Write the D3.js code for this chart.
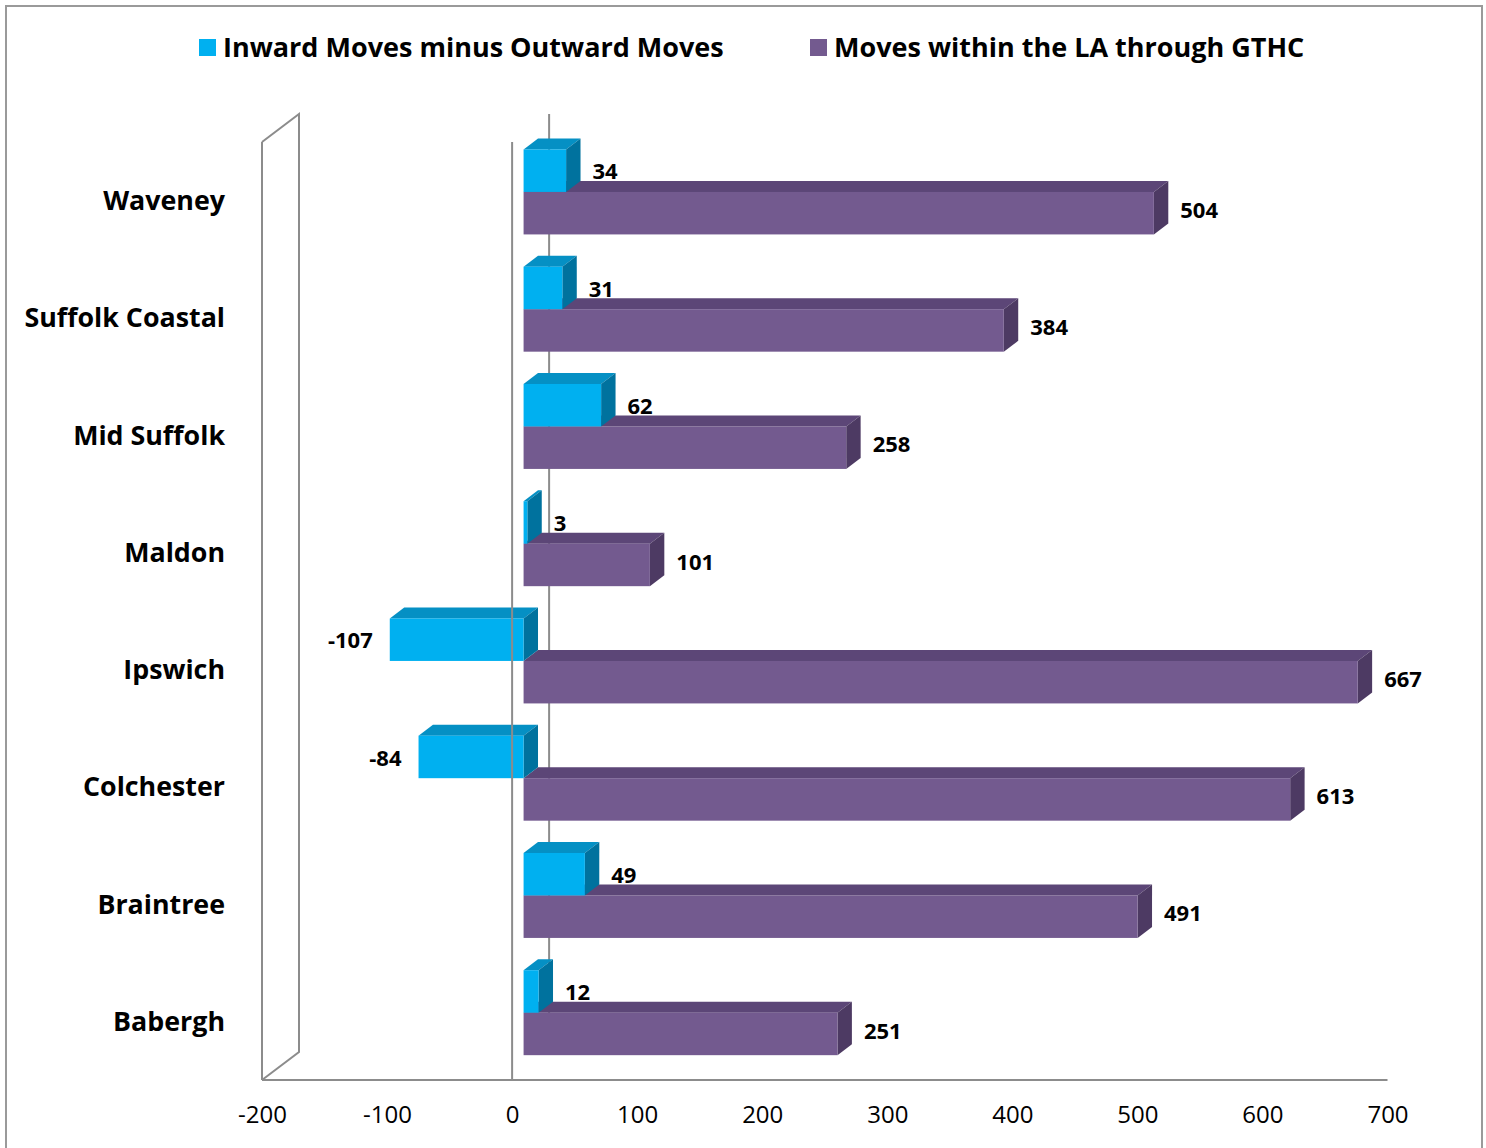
<!DOCTYPE html>
<html><head><meta charset="utf-8">
<script src="https://cdn.jsdelivr.net/npm/d3@7"></script>
<style>
html,body{margin:0;padding:0;background:#fff;}
svg{display:block;font-family:"Open Sans","DejaVu Sans",sans-serif;}
</style></head>
<body>
<svg id="chart" width="1486" height="1148"></svg>
<script>
const categories = ["Waveney","Suffolk Coastal","Mid Suffolk","Maldon","Ipswich","Colchester","Braintree","Babergh"];
const seriesNames = ["Inward Moves minus Outward Moves","Moves within the LA through GTHC"];
const netMoves = [34,31,62,3,-107,-84,49,12];
const withinMoves = [504,384,258,101,667,613,491,251];
const tickValues = [-200,-100,0,100,200,300,400,500,600,700];

const colors = [
  {front:"#00B0F0", top:"#0590C4", side:"#00729E"},
  {front:"#735A8F", top:"#5C4677", side:"#4D3A63"}
];

const svg = d3.select("#chart");

// outer border
svg.append("rect").attr("x",6).attr("y",6).attr("width",1476).attr("height",1160)
  .attr("fill","none").attr("stroke","#9a9a9a").attr("stroke-width",2);

// scales
const x = d3.scaleLinear().domain([-200,700]).range([262,1387.5]);
const y = d3.scaleBand().domain(categories).range([142,1080]);
const sub = d3.scaleBand().domain([0,1]).range([0,y.bandwidth()]).paddingInner(0).paddingOuter(0.38);

// 3D depth vector
const DX = 37, DY = -28;
const fa = 0.31, fb = 0.70;
const fx = fa*DX, fy = fa*DY, bx = fb*DX, by = fb*DY;

const grey = "#8c8c8c";

// left wall
const wallX = x(-200);
svg.append("path")
  .attr("d", `M${wallX},${y.range()[0]} L${wallX+DX},${y.range()[0]+DY} L${wallX+DX},${y.range()[1]+DY} L${wallX},${y.range()[1]}`)
  .attr("fill","none").attr("stroke",grey).attr("stroke-width",2);
svg.append("line").attr("x1",wallX).attr("x2",wallX).attr("y1",y.range()[0]).attr("y2",y.range()[1])
  .attr("stroke",grey).attr("stroke-width",2);

// back zero line
svg.append("line").attr("x1",x(0)+DX).attr("x2",x(0)+DX).attr("y1",y.range()[0]+DY).attr("y2",y.range()[1]+DY)
  .attr("stroke",grey).attr("stroke-width",2);

// bars
const data = [];
categories.forEach((c,i)=>{
  data.push({cat:c, s:1, v:withinMoves[i]});
  data.push({cat:c, s:0, v:netMoves[i]});
});

const g = svg.append("g");
data.forEach(d=>{
  const x1 = x(Math.min(0,d.v)), x2 = x(Math.max(0,d.v));
  const y1 = y(d.cat) + sub(d.s), h = sub.bandwidth();
  const col = colors[d.s];
  const bg = g.append("g");
  bg.append("path").attr("d",`M${x1+fx},${y1+fy} L${x2+fx},${y1+fy} L${x2+bx},${y1+by} L${x1+bx},${y1+by} Z`).attr("fill",col.top);
  bg.append("path").attr("d",`M${x2+fx},${y1+fy} L${x2+bx},${y1+by} L${x2+bx},${y1+h+by} L${x2+fx},${y1+h+fy} Z`).attr("fill",col.side);
  bg.append("rect").attr("x",x1+fx).attr("y",y1+fy).attr("width",x2-x1).attr("height",h).attr("fill",col.front);
  const cy = y1 + fy + h/2 + (d.s === 0 ? 1 : -3);
  if (d.v >= 0) {
    bg.append("text").attr("x",x2+bx+12).attr("y",cy).attr("dy","0.35em")
      .attr("font-size",22).attr("font-weight","bold").attr("fill","#000").text(d.v);
  } else {
    bg.append("text").attr("x",x1+fx-17).attr("y",cy).attr("dy","0.35em").attr("text-anchor","end")
      .attr("font-size",22).attr("font-weight","bold").attr("fill","#000").text(d.v);
  }
});

// front zero line and axis line
svg.append("line").attr("x1",x(0)).attr("x2",x(0)).attr("y1",y.range()[0]).attr("y2",y.range()[1])
  .attr("stroke",grey).attr("stroke-width",2);
svg.append("line").attr("x1",x(-200)).attr("x2",x(700)).attr("y1",y.range()[1]).attr("y2",y.range()[1])
  .attr("stroke",grey).attr("stroke-width",2);

// x axis labels
const xAxis = d3.axisBottom(x).tickValues(tickValues).tickSize(0).tickPadding(0).tickFormat(d => String(d));
const ax = svg.append("g").attr("transform",`translate(0,${y.range()[1]+26})`).call(xAxis);
ax.select(".domain").remove();
ax.selectAll("text").attr("font-size",24).attr("fill","#000").attr("font-family","Open Sans, sans-serif").attr("dy","0.71em");

// category labels
svg.append("g").selectAll("text").data(categories).join("text")
  .attr("x",225).attr("y",d=>y(d)+y.bandwidth()/2).attr("dy","0.35em")
  .attr("text-anchor","end").attr("font-size",26.8).attr("font-weight","bold").attr("fill","#000")
  .text(d=>d);

// legend
const legendX = [199, 810];
seriesNames.forEach((n,i)=>{
  svg.append("rect").attr("x",legendX[i]).attr("y",39).attr("width",17).attr("height",17).attr("fill",colors[i].front);
  svg.append("text").attr("x",legendX[i]+24).attr("y",47.5).attr("dy","0.35em")
    .attr("font-size",27).attr("font-weight","bold").attr("fill","#000").text(n);
});
</script>
</body></html>
